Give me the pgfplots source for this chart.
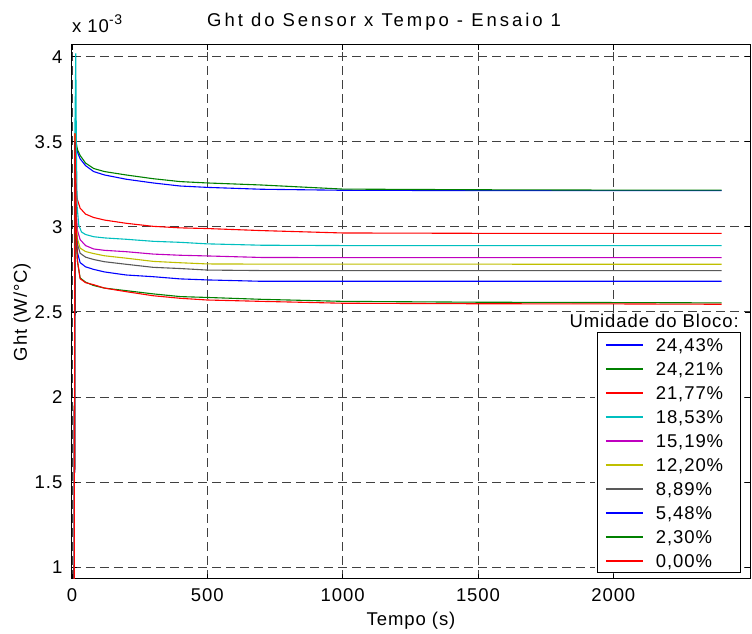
\documentclass[border=0pt]{standalone}
\usepackage{fontspec}
\setmainfont{Liberation Sans}
\newfontfamily\lsans[LetterSpace=5]{Liberation Sans}
\newfontfamily\tsans[LetterSpace=16]{Liberation Sans}
\usepackage{pgfplots}
\pgfplotsset{compat=1.18}

\definecolor{mblue}{rgb}{0,0,1}
\definecolor{mgreen}{rgb}{0,0.5,0}
\definecolor{mred}{rgb}{1,0,0}
\definecolor{mcyan}{rgb}{0,0.75,0.75}
\definecolor{mmag}{rgb}{0.75,0,0.75}
\definecolor{myel}{rgb}{0.75,0.75,0}
\definecolor{mgray}{rgb}{0.35,0.35,0.35}

\newcommand\f{\lsans\fontsize{18.5}{22}\selectfont}
\newcommand\leg[1]{\makebox[74pt][l]{\rule[-5.5pt]{0pt}{24pt}#1}}

\begin{document}
\begin{tikzpicture}
\useasboundingbox (-72pt,-55pt) rectangle (680pt,579pt);
\begin{axis}[
  name=ax,
  at={(0,0)}, anchor=south west,
  scale only axis,
  width=678pt, height=534pt,
  xmin=0, xmax=2505,
  ymin=0.93, ymax=4.069,
  xtick={0,500,1000,1500,2000},
  ytick={1,1.5,2,2.5,3,3.5,4},
  scaled y ticks=false,
  /pgf/number format/assume math mode=true,
  /pgf/number format/1000 sep={},
  tick label style={font=\f},
  xticklabel style={inner sep=0pt, anchor=north, yshift=-9pt},
  yticklabel style={inner sep=0pt, anchor=east, xshift=-9.5pt},
  tick align=inside,
  tick pos=both,
  major tick length=5pt,
  tick style={black, line width=0.8pt},
  axis line style={line width=1pt},
  grid=major,
  major grid style={black!75, line width=0.9pt, dash pattern=on 9pt off 5pt},
  every axis plot/.append style={line width=1.1pt},
  legend style={at={(1,0)}, anchor=south east, xshift=-10pt, yshift=6pt,
    draw=none, fill=white, font=\f,
    inner xsep=10pt, inner ysep=0pt, row sep=0pt, column sep=12pt,
    nodes={inner sep=0pt}, cells={anchor=base}},
  legend image code/.code={
    \draw[line width=1.8pt] (0pt,6.5pt) -- (37pt,6.5pt);
    \path[draw=none, fill=none] (0pt,-5.5pt) rectangle (37pt,18.5pt);},
]
\addplot[mblue] coordinates {(8,0.5) (11,3.55) (15,3.48) (20,3.44) (30,3.40) (50,3.36) (80,3.325) (120,3.305) (200,3.28) (300,3.258) (400,3.24) (500,3.232) (700,3.221) (1000,3.215) (1500,3.213) (2000,3.213) (2400,3.213)};
\addlegendentry{\leg{24,43\%}}
\addplot[mgreen] coordinates {(8,0.5) (11,3.55) (15,3.5) (20,3.455) (30,3.42) (50,3.375) (80,3.343) (120,3.325) (200,3.305) (300,3.283) (400,3.266) (500,3.258) (700,3.246) (1000,3.222) (1500,3.218) (2000,3.216) (2400,3.216)};
\addlegendentry{\leg{24,21\%}}
\addplot[mred] coordinates {(8,0.5) (11,3.55) (14,3.3) (17,3.2) (20,3.16) (30,3.11) (50,3.075) (80,3.055) (120,3.04) (200,3.021) (300,3.003) (400,2.994) (500,2.99) (700,2.978) (1000,2.964) (1500,2.962) (2400,2.962)};
\addlegendentry{\leg{21,77\%}}
\addplot[mcyan] coordinates {(8,0.5) (11,3.6) (14,4.02) (16,3.5) (19,3.12) (25,3.01) (35,2.97) (50,2.955) (80,2.942) (120,2.935) (200,2.927) (300,2.915) (400,2.909) (500,2.9) (700,2.892) (1000,2.89) (2400,2.89)};
\addlegendentry{\leg{18,53\%}}
\addplot[mmag] coordinates {(8,0.5) (11,3.5) (15,3.1) (20,2.98) (30,2.925) (50,2.89) (80,2.87) (120,2.862) (200,2.854) (300,2.84) (400,2.833) (500,2.829) (700,2.82) (1000,2.819) (2400,2.819)};
\addlegendentry{\leg{15,19\%}}
\addplot[myel] coordinates {(8,0.5) (11,3.55) (15,3.05) (20,2.93) (30,2.875) (50,2.855) (80,2.843) (120,2.83) (200,2.816) (300,2.797) (400,2.789) (500,2.782) (700,2.781) (2400,2.78)};
\addlegendentry{\leg{12,20\%}}
\addplot[mgray] coordinates {(8,0.5) (11,3.5) (15,3.0) (20,2.9) (30,2.845) (50,2.822) (80,2.808) (120,2.795) (200,2.78) (300,2.762) (400,2.755) (500,2.746) (700,2.743) (2400,2.743)};
\addlegendentry{\leg{8,89\%}}
\addplot[mblue] coordinates {(8,0.5) (11,3.5) (15,2.95) (20,2.85) (30,2.79) (50,2.765) (80,2.75) (120,2.735) (200,2.717) (300,2.707) (400,2.694) (500,2.688) (700,2.68) (2400,2.68)};
\addlegendentry{\leg{5,48\%}}
\addplot[mgreen] coordinates {(8,0.5) (11,3.5) (15,2.95) (20,2.8) (30,2.7) (50,2.675) (80,2.655) (120,2.64) (200,2.625) (300,2.606) (400,2.59) (500,2.585) (700,2.574) (1000,2.562) (1500,2.557) (2000,2.555) (2400,2.553)};
\addlegendentry{\leg{2,30\%}}
\addplot[mred] coordinates {(8,0.5) (11,3.55) (15,3.0) (20,2.8) (30,2.695) (50,2.672) (80,2.66) (120,2.64) (200,2.619) (300,2.595) (400,2.58) (500,2.57) (700,2.562) (1000,2.551) (1500,2.548) (2000,2.547) (2400,2.545)};
\addlegendentry{\leg{0,00\%}}
\end{axis}
% legend frame, drawn apart from the legend matrix
\draw[line width=1pt] (525pt,6pt) rectangle (668pt,246pt);
% texts placed around the axis box (origin = lower left corner of box)
\node[anchor=base west, inner sep=0pt, font=\tsans\fontsize{18.5}{22}\selectfont] at (135pt,552pt) {Ght do Sensor x Tempo - Ensaio 1};
\node[anchor=base west, inner sep=0pt, font=\f] at (0pt,546pt) {x 10\raisebox{8pt}{\fontsize{14}{16}\selectfont -3}};
\node[rotate=90, inner sep=0pt, font=\f] at (-50pt,267pt) {Ght (W/°C)};
\node[inner sep=0pt, font=\f] at (339pt,-42pt) {Tempo (s)};
\node[anchor=base east, inner sep=0pt, font=\f] at (667pt,251pt) {Umidade do Bloco:};
\end{tikzpicture}
\end{document}
